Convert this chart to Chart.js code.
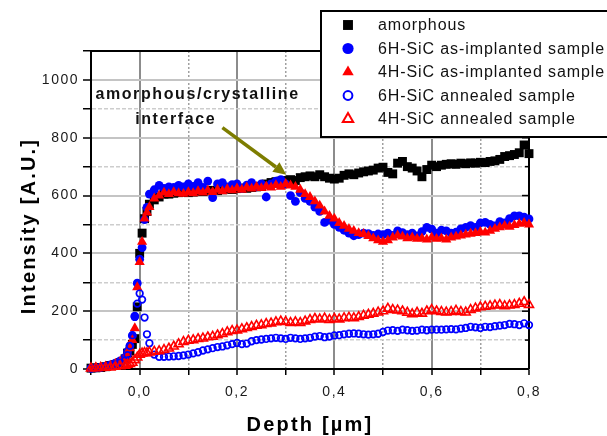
<!DOCTYPE html>
<html lang="en">
<head>
<meta charset="UTF-8">
<title>Depth profile</title>
<script src="https://cdn.jsdelivr.net/npm/chart.js"></script>
<style>
  body { margin: 0; background: #fff; }
  #wrap { width: 607px; height: 436px; }
</style>
</head>
<body>
<div id="wrap"><canvas id="depthChart" width="607" height="436"></canvas></div>
<script>
// depth of each measured point (µm)
var depth = [-0.1, -0.09, -0.08, -0.07, -0.06, -0.05, -0.04, -0.03,
  -0.025, -0.02, -0.015, -0.01, -0.005, 0, 0.005, 0.01, 0.015, 0.02,
  0.03, 0.04, 0.05, 0.06, 0.07, 0.08, 0.09, 0.1,
  0.11, 0.12, 0.13, 0.14, 0.15, 0.16, 0.17, 0.18, 0.19, 0.2,
  0.21, 0.22, 0.23, 0.24, 0.25, 0.26, 0.27, 0.28, 0.29, 0.3,
  0.31, 0.32, 0.33, 0.34, 0.35, 0.36, 0.37, 0.38, 0.39, 0.4,
  0.41, 0.42, 0.43, 0.44, 0.45, 0.46, 0.47, 0.48, 0.49, 0.5,
  0.51, 0.52, 0.53, 0.54, 0.55, 0.56, 0.57, 0.58, 0.59, 0.6,
  0.61, 0.62, 0.63, 0.64, 0.65, 0.66, 0.67, 0.68, 0.69, 0.7,
  0.71, 0.72, 0.73, 0.74, 0.75, 0.76, 0.77, 0.78, 0.79, 0.8];

var amorphous = [3, 4, 5, 8, 12, 15, 22, 35,
  55, 62, 85, 105, 215, 400, 470, 520, 545, 570,
  585, 595, 605, 605, 608, 610, 612, 610,
  612, 615, 614, 616, 618, 617, 620, 622, 621, 624,
  626, 625, 628, 630, 632, 640, 645, 648, 650, 652,
  655, 652, 662, 665, 668, 665, 672, 665, 660, 657,
  660, 670, 675, 672, 678, 682, 685, 688, 695, 698,
  680, 675, 712, 718, 700, 695, 685, 665, 690, 705,
  700, 705, 708, 710, 708, 712, 710, 713, 712, 715,
  714, 718, 720, 725, 735, 738, 742, 748, 775, 745];

var implanted6H = [2, 4, 6, 10, 14, 20, 28, 40,
  60, 80, 115, 183, 297, 380, 420, 517, 559, 605,
  620, 635, 625, 630, 628, 635, 630, 640,
  632, 645, 628, 650, 593, 640, 645, 630, 638, 640,
  625, 636, 645, 630, 640, 595, 640, 650, 655, 640,
  600, 580, 610, 590, 580, 560, 545, 507, 515, 500,
  490, 480, 470, 461, 465, 470, 468, 462, 467, 465,
  470, 462, 478, 472, 465, 470, 460, 475, 490, 484,
  470, 480, 478, 470, 473, 485, 490, 496, 490, 505,
  507, 500, 495, 510, 505, 520, 530, 530, 525, 519];

var implanted4H = [3, 4, 6, 9, 12, 18, 25, 35,
  55, 72, 100, 141, 283, 370, 440, 520, 541, 560,
  590, 600, 610, 605, 612, 608, 606, 612,
  608, 615, 610, 618, 612, 620, 615, 622, 618, 625,
  620, 628, 624, 630, 626, 632, 628, 636, 630, 640,
  635, 630, 620, 605, 595, 580, 565, 545, 530, 520,
  505, 495, 485, 478, 470, 467, 460, 452, 445, 440,
  445, 455, 462, 458, 452, 455, 450, 452, 448, 455,
  450, 452, 448, 455, 458, 462, 465, 468, 470, 474,
  472, 478, 485, 490, 495, 492, 498, 502, 505, 500];

var annealed6H = [3, 4, 6, 8, 12, 16, 22, 30,
  48, 80, 117, 180, 226, 261, 240, 178, 120, 89,
  50, 42, 42, 43, 44, 45, 47, 50,
  54, 58, 64, 68, 72, 76, 78, 82, 86, 90,
  86, 88, 96, 100, 102, 104, 106, 108, 106, 104,
  108, 106, 104, 106, 108, 112, 114, 110, 112, 116,
  117, 120, 122, 123, 122, 120, 119, 120, 122, 128,
  133, 134, 132, 136, 134, 132, 133, 136, 134, 136,
  136, 136, 137, 138, 137, 140, 142, 146, 144, 142,
  146, 145, 148, 150, 152, 156, 155, 152, 158, 152];

var annealed4H = [2, 3, 4, 5, 6, 8, 10, 12,
  15, 18, 22, 31, 40, 50, 54, 56, 55, 58,
  60, 62, 66, 71, 78, 86, 94, 98,
  100, 104, 106, 110, 112, 117, 122, 128, 132, 134,
  138, 142, 146, 150, 152, 156, 158, 162, 165, 163,
  160, 162, 160, 165, 170, 174, 172, 175, 170, 174,
  172, 176, 178, 176, 180, 185, 188, 192, 196, 200,
  209, 205, 203, 200, 195, 190, 195, 192, 200, 205,
  200, 198, 196, 198, 202, 198, 196, 205, 210, 214,
  216, 218, 220, 222, 218, 220, 222, 226, 232, 222];

var seriesNames = ['amorphous', '6H-SiC as-implanted sample', '4H-SiC as-implanted sample',
  '6H-SiC annealed sample', '4H-SiC annealed sample'];

var xTickValues = [-0.1, 0, 0.1, 0.2, 0.3, 0.4, 0.5, 0.6, 0.7, 0.8];
var xLabelValues = [0, 0.2, 0.4, 0.6, 0.8];
var xTickLabels = ['0,0', '0,2', '0,4', '0,6', '0,8'];
var yTickValues = [0, 100, 200, 300, 400, 500, 600, 700, 800, 900, 1000, 1100];
var yLabelValues = [0, 200, 400, 600, 800, 1000];
var yTickLabels = ['0', '200', '400', '600', '800', '1000'];

var FONT = '"Liberation Sans", Arial, sans-serif';

function points(values) {
  return depth.map(function (d, i) { return { x: d, y: values[i] }; });
}

function labelFor(value, at, labels) {
  for (var i = 0; i < at.length; i++) {
    if (Math.abs(at[i] - value) < 1e-6) return labels[i];
  }
  return '';
}

function isMajorX(v) { return Math.round(v * 10) % 2 === 0; }
function isMajorY(v) { return Math.round(v) % 200 === 0; }

var datasets = [
  { label: seriesNames[0], data: points(amorphous), pointStyle: 'rect', pointRadius: 6.3,
    pointBackgroundColor: '#000000', pointBorderColor: '#000000', pointBorderWidth: 0, order: 5 },
  { label: seriesNames[1], data: points(implanted6H), pointStyle: 'circle', pointRadius: 4.4,
    pointBackgroundColor: '#0000ff', pointBorderColor: '#0000ff', pointBorderWidth: 0, order: 4 },
  { label: seriesNames[2], data: points(implanted4H), pointStyle: 'triangle', pointRadius: 5.9,
    pointBackgroundColor: '#ff0000', pointBorderColor: '#ff0000', pointBorderWidth: 0, order: 3 },
  { label: seriesNames[3], data: points(annealed6H), pointStyle: 'circle', pointRadius: 3.3,
    pointBackgroundColor: 'rgba(0,0,0,0)', pointBorderColor: '#0000ff', pointBorderWidth: 1.7, order: 2 },
  { label: seriesNames[4], data: points(annealed4H), pointStyle: 'triangle', pointRadius: 5.2,
    pointBackgroundColor: 'rgba(0,0,0,0)', pointBorderColor: '#ff0000', pointBorderWidth: 1.6, order: 1 }
];
datasets.forEach(function (ds) { ds.showLine = false; ds.clip = false; });

// legend symbols are drawn a little larger than the plot symbols
var legendRadius = [7, 5.6, 6.6, 4.4, 6];
var legendBorder = [0, 0, 0, 2, 2];

var decor = {
  id: 'decor',
  beforeDraw: function (chart) {
    chart.ctx.letterSpacing = '1.5px';
  },
  beforeDatasetsDraw: function (chart) {
    var ctx = chart.ctx, a = chart.chartArea, ys = chart.scales.y;
    ctx.save();
    ctx.strokeStyle = '#000';
    ctx.lineWidth = 2;
    ctx.beginPath();
    ctx.moveTo(a.left, a.top);
    ctx.lineTo(a.right, a.top);
    ctx.lineTo(a.right, a.bottom);
    ctx.stroke();
    // inward ticks on the right frame
    ctx.lineWidth = 1.5;
    yTickValues.forEach(function (v) {
      var py = ys.getPixelForValue(v);
      var len = isMajorY(v) ? 7 : 4;
      ctx.beginPath();
      ctx.moveTo(a.right, py);
      ctx.lineTo(a.right - len, py);
      ctx.stroke();
    });
    ctx.restore();
  },
  afterDraw: function (chart) {
    var ctx = chart.ctx, a = chart.chartArea, xs = chart.scales.x, ys = chart.scales.y;
    ctx.save();

    // annotation text
    ctx.fillStyle = '#111';
    ctx.font = 'bold 16px ' + FONT;
    ctx.letterSpacing = '1.6px';
    ctx.textAlign = 'center';
    ctx.textBaseline = 'alphabetic';
    ctx.fillText('amorphous/crystalline', xs.getPixelForValue(0.119), ys.getPixelForValue(935));
    ctx.fillText('interface', xs.getPixelForValue(0.074), ys.getPixelForValue(846));

    // arrow to the interface
    var x0 = xs.getPixelForValue(0.17), y0 = ys.getPixelForValue(835);
    var x1 = xs.getPixelForValue(0.3014), y1 = ys.getPixelForValue(672);
    var ang = Math.atan2(y1 - y0, x1 - x0), head = 13, half = 6;
    var bx = x1 - Math.cos(ang) * head, by = y1 - Math.sin(ang) * head;
    ctx.strokeStyle = '#7d7d00';
    ctx.fillStyle = '#7d7d00';
    ctx.lineWidth = 3.5;
    ctx.beginPath();
    ctx.moveTo(x0, y0);
    ctx.lineTo(bx, by);
    ctx.stroke();
    ctx.beginPath();
    ctx.moveTo(x1, y1);
    ctx.lineTo(bx + Math.sin(ang) * half, by - Math.cos(ang) * half);
    ctx.lineTo(bx - Math.sin(ang) * half, by + Math.cos(ang) * half);
    ctx.closePath();
    ctx.fill();

    // legend box
    ctx.fillStyle = '#fff';
    ctx.fillRect(321, 11, 300, 126);
    ctx.strokeStyle = '#000';
    ctx.lineWidth = 2;
    ctx.strokeRect(321, 11, 300, 126);
    chart.data.datasets.forEach(function (ds, i) {
      var y = 25 + i * 23.5;
      ctx.fillStyle = ds.pointBackgroundColor;
      ctx.strokeStyle = ds.pointBorderColor;
      ctx.lineWidth = legendBorder[i];
      Chart.helpers.drawPoint(ctx, {
        pointStyle: ds.pointStyle, radius: legendRadius[i], rotation: 0, borderWidth: legendBorder[i]
      }, 348, y);
      ctx.fillStyle = '#111';
      ctx.font = '16px ' + FONT;
      ctx.letterSpacing = '0.9px';
      ctx.textAlign = 'left';
      ctx.textBaseline = 'middle';
      ctx.fillText(ds.label, 378, y + 1);
    });

    // axis titles
    ctx.fillStyle = '#000';
    ctx.font = 'bold 20px ' + FONT;
    ctx.letterSpacing = '2.2px';
    ctx.textAlign = 'center';
    ctx.textBaseline = 'alphabetic';
    ctx.fillText('Depth [\u00b5m]', (a.left + a.right) / 2, 431);
    ctx.translate(35, 226);
    ctx.rotate(-Math.PI / 2);
    ctx.fillText('Intensity [A.U.]', 0, 0);
    ctx.restore();
  }
};

var ctx = document.getElementById('depthChart').getContext('2d');
new Chart(ctx, {
  type: 'scatter',
  data: { datasets: datasets },
  options: {
    responsive: false,
    animation: false,
    devicePixelRatio: 1,
    layout: { padding: { left: 0, right: 78, top: 51, bottom: 0 } },
    plugins: { legend: { display: false }, tooltip: { enabled: false } },
    scales: {
      x: {
        type: 'linear',
        min: -0.1,
        max: 0.8,
        afterBuildTicks: function (s) { s.ticks = xTickValues.map(function (v) { return { value: v }; }); },
        afterFit: function (s) { s.height = 67; },
        ticks: {
          autoSkip: false, maxRotation: 0, padding: 9, color: '#1a1a1a',
          font: { family: FONT, size: 14 },
          callback: function (v) { return labelFor(v, xLabelValues, xTickLabels); }
        },
        grid: {
          color: function (c) { return c.tick && !isMajorX(c.tick.value) ? '#a0a0a0' : '#8c8c8c'; },
          lineWidth: function (c) { return c.tick && !isMajorX(c.tick.value) ? 1.5 : 2; },
          tickColor: '#000', tickLength: 6, tickWidth: 1.5
        },
        border: {
          color: '#000', width: 2,
          dash: function (c) { return c.tick && !isMajorX(c.tick.value) ? [2, 2] : []; }
        }
      },
      y: {
        type: 'linear',
        min: 0,
        max: 1100,
        afterBuildTicks: function (s) { s.ticks = yTickValues.map(function (v) { return { value: v }; }); },
        afterFit: function (s) { s.width = 91; },
        ticks: {
          autoSkip: false, padding: 4, color: '#1a1a1a',
          font: { family: FONT, size: 14 },
          callback: function (v) { return labelFor(v, yLabelValues, yTickLabels); }
        },
        grid: {
          color: function (c) { return c.tick && !isMajorY(c.tick.value) ? '#cdcdcd' : '#c4c4c4'; },
          lineWidth: function (c) { return c.tick && !isMajorY(c.tick.value) ? 1.5 : 2; },
          tickColor: '#000', tickLength: 8, tickWidth: 1.5
        },
        border: {
          color: '#000', width: 2,
          dash: function (c) { return c.tick && !isMajorY(c.tick.value) ? [4, 2] : []; }
        }
      }
    }
  },
  plugins: [decor]
});
</script>
</body>
</html>
